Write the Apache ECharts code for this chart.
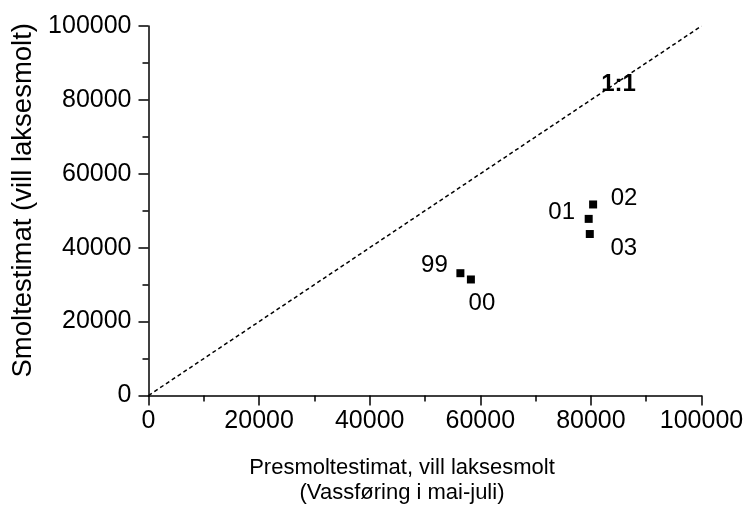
<!DOCTYPE html>
<html>
<head>
<meta charset="utf-8">
<script src="https://cdn.jsdelivr.net/npm/echarts@6/dist/echarts.min.js"></script>
<style>
  html, body { margin: 0; padding: 0; background: #fff; }
  #chart { width: 747px; height: 511px; }
</style>
</head>
<body>
<div id="chart"></div>
<script>
// presmolt estimate vs smolt estimate, one point per year
const years = ["99", "00", "01", "02", "03"];
const presmolt = [56400, 58300, 79600, 80400, 79800];
const smolt = [33100, 31400, 47800, 51700, 43700];
const yearLabelOffsets = [[-26, -8], [11, 24], [-27, -7], [31, -6], [34, 14]];

const oneToOne = [[0, 0], [100000, 100000]];
const oneToOneLabel = { text: "1:1", x: 85000, y: 84300 };

const FONT = "'Liberation Sans', Arial, sans-serif";

const chart = echarts.init(document.getElementById("chart"));

const axisCommon = {
  type: "value",
  min: 0,
  max: 100000,
  interval: 20000,
  nameLocation: "middle",
  axisLine: { show: true, onZero: false, lineStyle: { color: "#000", width: 1.5 } },
  axisTick: { show: true, length: 10, lineStyle: { color: "#000", width: 1.5 } },
  minorTick: { show: true, splitNumber: 2, length: 6, lineStyle: { color: "#000", width: 1.5 } },
  splitLine: { show: false },
  axisLabel: {
    color: "#000",
    fontFamily: FONT,
    fontSize: 25,
    formatter: (v) => String(v),
  },
};

const labelText = { color: "#000", fontSize: 24, textBorderWidth: 0 };

chart.setOption({
  animation: false,
  textStyle: { fontFamily: FONT },
  grid: { left: 148.5, right: 45.5, top: 26, bottom: 115.5 },
  xAxis: {
    ...axisCommon,
    name: "Presmoltestimat, vill laksesmolt\n(Vassføring i mai-juli)",
    nameGap: 60,
    nameTextStyle: { color: "#000", fontSize: 22, lineHeight: 25, padding: [0, 46, 0, 0] },
    axisLabel: { ...axisCommon.axisLabel, margin: 13 },
  },
  yAxis: {
    ...axisCommon,
    name: "Smoltestimat (vill laksesmolt)",
    nameGap: 110,
    nameTextStyle: { color: "#000", fontSize: 27.5, padding: [0, 0, 0, 21] },
    axisLabel: { ...axisCommon.axisLabel, margin: 17 },
  },
  series: [
    {
      type: "line",
      data: oneToOne,
      symbol: "none",
      silent: true,
      lineStyle: { color: "#000", width: 1.5, type: [4, 3] },
    },
    {
      type: "scatter",
      data: [[oneToOneLabel.x, oneToOneLabel.y]],
      symbolSize: 0,
      silent: true,
      itemStyle: { opacity: 1 },
      label: {
        show: true,
        position: "inside",
        formatter: oneToOneLabel.text,
        ...labelText,
        fontWeight: "bold",
      },
    },
    {
      type: "scatter",
      symbol: "rect",
      symbolSize: 8,
      silent: true,
      itemStyle: { color: "#000", opacity: 1 },
      data: years.map((y, i) => ({
        value: [presmolt[i], smolt[i]],
        label: {
          show: true,
          position: "inside",
          offset: yearLabelOffsets[i],
          formatter: y,
          ...labelText,
        },
      })),
    },
  ],
});
</script>
</body>
</html>
